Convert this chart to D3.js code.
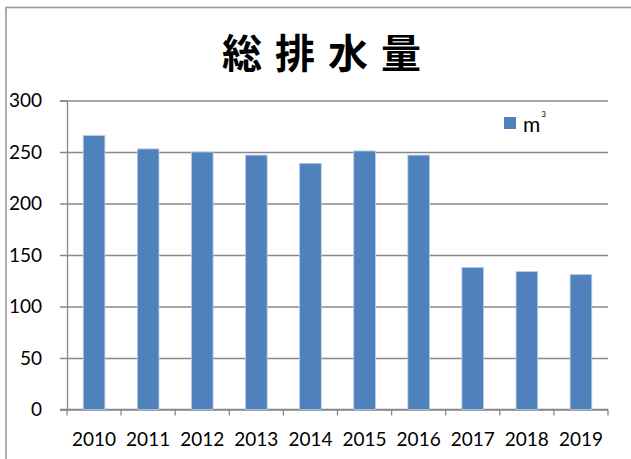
<!DOCTYPE html>
<html>
<head>
<meta charset="utf-8">
<script src="https://cdn.jsdelivr.net/npm/d3@7"></script>
<style>
  body { margin: 0; background: #fff; }
  text { font-family: Lato, "Liberation Sans", sans-serif; }
</style>
</head>
<body>
<svg id="chart" width="631" height="459"></svg>
<script>
// data
const years = ["2010", "2011", "2012", "2013", "2014", "2015", "2016", "2017", "2018", "2019"];
const volumes = [266, 253, 250, 247, 239, 251, 247, 138, 134, 131];
const yTicks = [0, 50, 100, 150, 200, 250, 300];
const title = "総 排 水 量";
const seriesName = "m";

const width = 631, height = 459;
let margin = { top: 100.5, right: 23, bottom: 49.5, left: 67 };

let svg = d3.select("#chart");

// outer frame of the chart area (runs off the right and bottom)
svg.append("rect")
    .attr("x", 6).attr("y", 7.5)
    .attr("width", 640).attr("height", 470)
    .attr("fill", "none")
    .attr("stroke", "#9a9a9a")
    .attr("stroke-width", 1.6);

svg.append("text")
    .attr("x", 322.5).attr("y", 68)
    .attr("text-anchor", "middle")
    .style("font-family", "'Noto Sans CJK JP', sans-serif")
    .style("font-weight", 700)
    .style("font-size", "40px")
    .style("letter-spacing", "2px")
    .text(title);

let x = d3.scaleBand()
    .domain(years)
    .range([margin.left, width - margin.right])
    .paddingInner(0.6)
    .paddingOuter(0.3);

let y = d3.scaleLinear()
    .domain([0, 300])
    .range([height - margin.bottom, margin.top]);

// gridlines incl. the little tick stubs left of the axis
let gy = svg.append("g")
    .attr("transform", "translate(" + margin.left + ",0)")
    .call(d3.axisLeft(y).tickValues(yTicks).tickSize(7).tickPadding(18));
gy.select(".domain").attr("stroke", "#888").attr("stroke-width", 1.3);
gy.selectAll(".tick line")
    .attr("x2", width - margin.right - margin.left)
    .attr("x1", -7)
    .attr("stroke", "#888")
    .attr("stroke-width", 1.3);
gy.selectAll(".tick text")
    .style("font-size", "19px")
    .style("font-family", "Lato, sans-serif")
    .attr("fill", "#000");

// x axis: ticks sit on category boundaries
let step = x.step();
let gx = svg.append("g");
gx.append("line")
    .attr("x1", margin.left - 7).attr("x2", width - margin.right)
    .attr("y1", y(0)).attr("y2", y(0))
    .attr("stroke", "#888").attr("stroke-width", 1.3);
gx.selectAll(".xt")
    .data(d3.range(years.length + 1))
    .enter().append("line")
    .attr("x1", (d) => margin.left + d * step)
    .attr("x2", (d) => margin.left + d * step)
    .attr("y1", y(0)).attr("y2", y(0) + 6)
    .attr("stroke", "#888").attr("stroke-width", 1.3);
gx.selectAll(".xl")
    .data(years)
    .enter().append("text")
    .attr("x", (d) => x(d) + x.bandwidth() / 2)
    .attr("y", 446)
    .attr("text-anchor", "middle")
    .style("font-size", "19px")
    .text((d) => d);

svg.selectAll(".bar")
    .data(years)
    .enter().append("rect")
    .attr("x", (d) => x(d))
    .attr("y", (d, i) => y(volumes[i]))
    .attr("width", x.bandwidth())
    .attr("height", (d, i) => y(0) - y(volumes[i]))
    .attr("fill", "#4f81bd")
    .attr("stroke", "#b9cde5")
    .attr("stroke-width", 0.8);

// legend
let lg = svg.append("g");
lg.append("rect")
    .attr("x", 504).attr("y", 117)
    .attr("width", 12).attr("height", 12)
    .attr("fill", "#4f81bd");
let lt = lg.append("text")
    .attr("x", 523).attr("y", 132)
    .style("font-size", "21px")
    .text(seriesName);
lt.append("tspan")
    .attr("dy", -15).attr("dx", 1)
    .style("font-size", "8px")
    .text("3");
</script>
</body>
</html>
